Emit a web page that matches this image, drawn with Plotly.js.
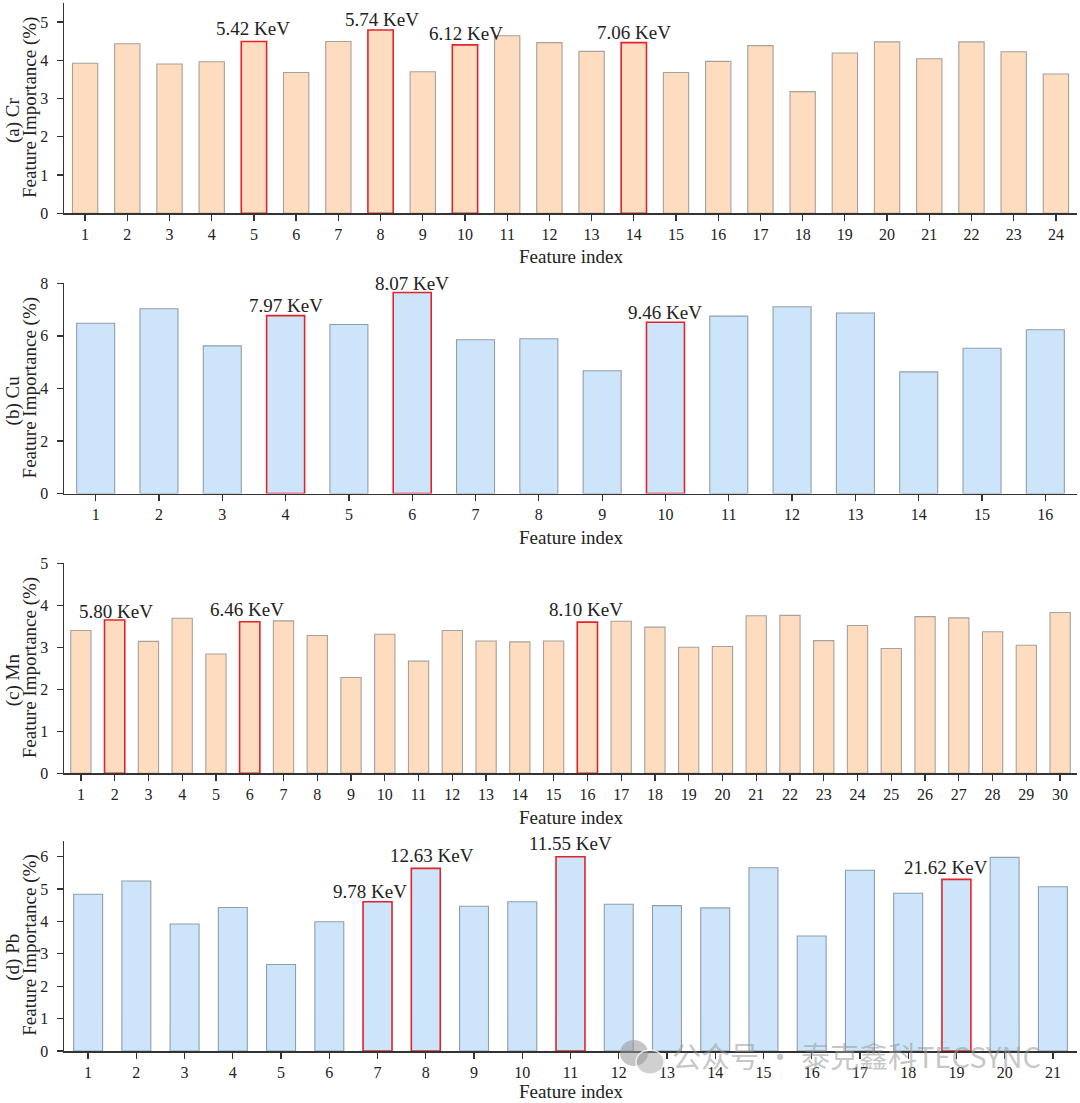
<!DOCTYPE html>
<html>
<head>
<meta charset="utf-8">
<script src="https://cdn.plot.ly/plotly-3.0.1.min.js"></script>
<style>html,body{margin:0;padding:0;background:#fff;}#chart{width:1080px;height:1103px;}</style>
</head>
<body>
<div id="chart"></div>
<script>
// ---- data ----
const crValues = [3.92,4.43,3.90,3.96,4.49,3.68,4.49,4.79,3.70,4.40,4.64,4.46,4.23,4.46,3.68,3.97,4.38,3.18,4.19,4.48,4.04,4.48,4.22,3.64];
const cuValues = [6.48,7.03,5.62,6.77,6.43,7.65,5.85,5.89,4.67,6.52,6.75,7.11,6.87,4.63,5.53,6.23];
const mnValues = [3.40,3.65,3.14,3.69,2.84,3.61,3.63,3.28,2.28,3.31,2.67,3.40,3.15,3.13,3.15,3.60,3.62,3.48,3.00,3.02,3.75,3.76,3.16,3.52,2.97,3.73,3.70,3.37,3.05,3.83];
const pbValues = [4.84,5.25,3.92,4.43,2.67,3.99,4.61,5.64,4.47,4.61,6.00,4.53,4.49,4.42,5.66,3.55,5.58,4.87,5.30,5.98,5.07];

const crHighlight = [5,8,10,14];
const crLabels = ["5.42 KeV","5.74 KeV","6.12 KeV","7.06 KeV"];
const cuHighlight = [4,6,10];
const cuLabels = ["7.97 KeV","8.07 KeV","9.46 KeV"];
const mnHighlight = [2,6,16];
const mnLabels = ["5.80 KeV","6.46 KeV","8.10 KeV"];
const pbHighlight = [7,8,11,19];
const pbLabels = ["9.78 KeV","12.63 KeV","11.55 KeV","21.62 KeV"];

const panelTitles = ["(a) Cr","(b) Cu","(c) Mn","(d) Pb"];
const yLabel = "Feature Importance (%)";
const xLabel = "Feature index";
const watermark = "公众号 · 泰克鑫科TECSYNC";

// ---- style ----
const W = 1080, H = 1103;
const FONT = "Liberation Serif, Times New Roman, serif";
const peach = "#FDDCC0", blue = "#CDE5FA";
const peachLine = "#A8A09A", blueLine = "#8E9EAB", red = "#E3232B";
const labelShift = {
  cr: {x:[-1,1,1,0], y:[0,-2,-1,-2]},
  cu: {x:[0,0,0], y:[-2,-3,-3]},
  mn: {x:[1,-3,-1], y:[-4,0,0]},
  pb: {x:[-8,6,0,-10], y:[-2,0,1,-1]}
};
const xTitleY = [257, 537, 817, 1091];
const panels = [
  {key:"cr", vals:crValues, hi:crHighlight, lab:crLabels, fill:peach, line:peachLine, yr:[0,5.5], px:[213.3,2.8]},
  {key:"cu", vals:cuValues, hi:cuHighlight, lab:cuLabels, fill:blue, line:blueLine, yr:[0,8], px:[493.5,283.3]},
  {key:"mn", vals:mnValues, hi:mnHighlight, lab:mnLabels, fill:peach, line:peachLine, yr:[0,5], px:[773.3,563.3]},
  {key:"pb", vals:pbValues, hi:pbHighlight, lab:pbLabels, fill:blue, line:blueLine, yr:[0,6.5], px:[1051,840.5]}
];

const traces = [];
const layout = {
  width: W, height: H,
  margin: {l:0, r:0, t:0, b:0},
  paper_bgcolor: "#fff", plot_bgcolor: "#fff",
  showlegend: false,
  font: {family: FONT, size: 16, color: "#222"},
  annotations: [],
  shapes: [],
  bargap: 0.4
};

const xDom = [64/W, 1077/W];

panels.forEach((p, i) => {
  const n = p.vals.length;
  const xs = p.vals.map((_, k) => k + 1);
  const lineColors = xs.map(x => p.hi.includes(x) ? red : p.line);
  const lineWidths = xs.map(x => p.hi.includes(x) ? 1.6 : 1.1);
  const sfx = i === 0 ? "" : String(i + 1);
  traces.push({
    type: "bar", x: xs, y: p.vals,
    xaxis: "x" + sfx, yaxis: "y" + sfx,
    width: 0.6,
    marker: {color: p.fill, line: {color: lineColors, width: lineWidths}},
    hoverinfo: "x+y"
  });
  const yDom = [1 - p.px[0]/H, 1 - p.px[1]/H];
  const axCommon = {
    showline: true, linecolor: "#333", linewidth: 1.5,
    ticks: "outside", ticklen: 6, tickwidth: 1.3, tickcolor: "#333",
    showgrid: false, zeroline: false,
    tickfont: {family: FONT, size: 16, color: "#222"}
  };
  layout["xaxis" + sfx] = Object.assign({}, axCommon, {
    domain: xDom, anchor: "y" + sfx, range: [0.5, n + 0.5],
    tickmode: "array", tickvals: xs, ticktext: xs.map(String)
  });
  layout["yaxis" + sfx] = Object.assign({}, axCommon, {
    domain: yDom, anchor: "x" + sfx, range: p.yr, dtick: p.yr[1] > 6.5 ? 2 : 1,
    ticklabelstandoff: 5
  });
  const yMid = (yDom[0] + yDom[1]) / 2;
  // y titles (two lines)
  layout.annotations.push({
    text: panelTitles[i], xref: "paper", yref: "paper", x: 13/W, y: yMid,
    xanchor: "center", yanchor: "middle", textangle: -90, showarrow: false,
    yshift: -12, font: {family: FONT, size: 19, color: "#222"}
  });
  layout.annotations.push({
    text: yLabel, xref: "paper", yref: "paper", x: 30/W, y: yMid,
    xanchor: "center", yanchor: "middle", textangle: -90, showarrow: false,
    font: {family: FONT, size: 19, color: "#222"}
  });
  // x title
  layout.annotations.push({
    text: xLabel, xref: "paper", yref: "paper", x: 571/W, y: 1 - xTitleY[i]/H,
    xanchor: "center", yanchor: "middle", showarrow: false,
    font: {family: FONT, size: 19, color: "#222"}
  });
  // energy labels
  p.hi.forEach((idx, j) => {
    layout.annotations.push({
      text: p.lab[j], xref: "x" + sfx, yref: "y" + sfx,
      x: idx, y: p.vals[idx - 1], xanchor: "center", yanchor: "bottom",
      showarrow: false, xshift: labelShift[p.key].x[j], yshift: labelShift[p.key].y[j],
      font: {family: FONT, size: 19, color: "#222"}
    });
  });
});

// watermark (icon + text)
const wmGrey = "rgba(150,150,150,0.55)";
layout.shapes.push(
  {type:"circle", xref:"paper", yref:"paper", x0:620/W, x1:648/W, y0:1-1066/H, y1:1-1040/H, fillcolor:wmGrey, line:{width:0}, layer:"above"},
  {type:"circle", xref:"paper", yref:"paper", x0:636/W, x1:664/W, y0:1-1074/H, y1:1-1050/H, fillcolor:"rgba(150,150,150,0.45)", line:{color:"rgba(255,255,255,0.8)", width:1.5}, layer:"above"}
);
layout.annotations.push({
  text: watermark, xref: "paper", yref: "paper", x: 670/W, y: 1 - 1055/H,
  xanchor: "left", yanchor: "middle", showarrow: false,
  font: {family: "Noto Sans CJK SC, sans-serif", size: 29, color: wmGrey}
});

Plotly.newPlot("chart", traces, layout, {staticPlot: true, displayModeBar: false});
</script>
</body>
</html>
